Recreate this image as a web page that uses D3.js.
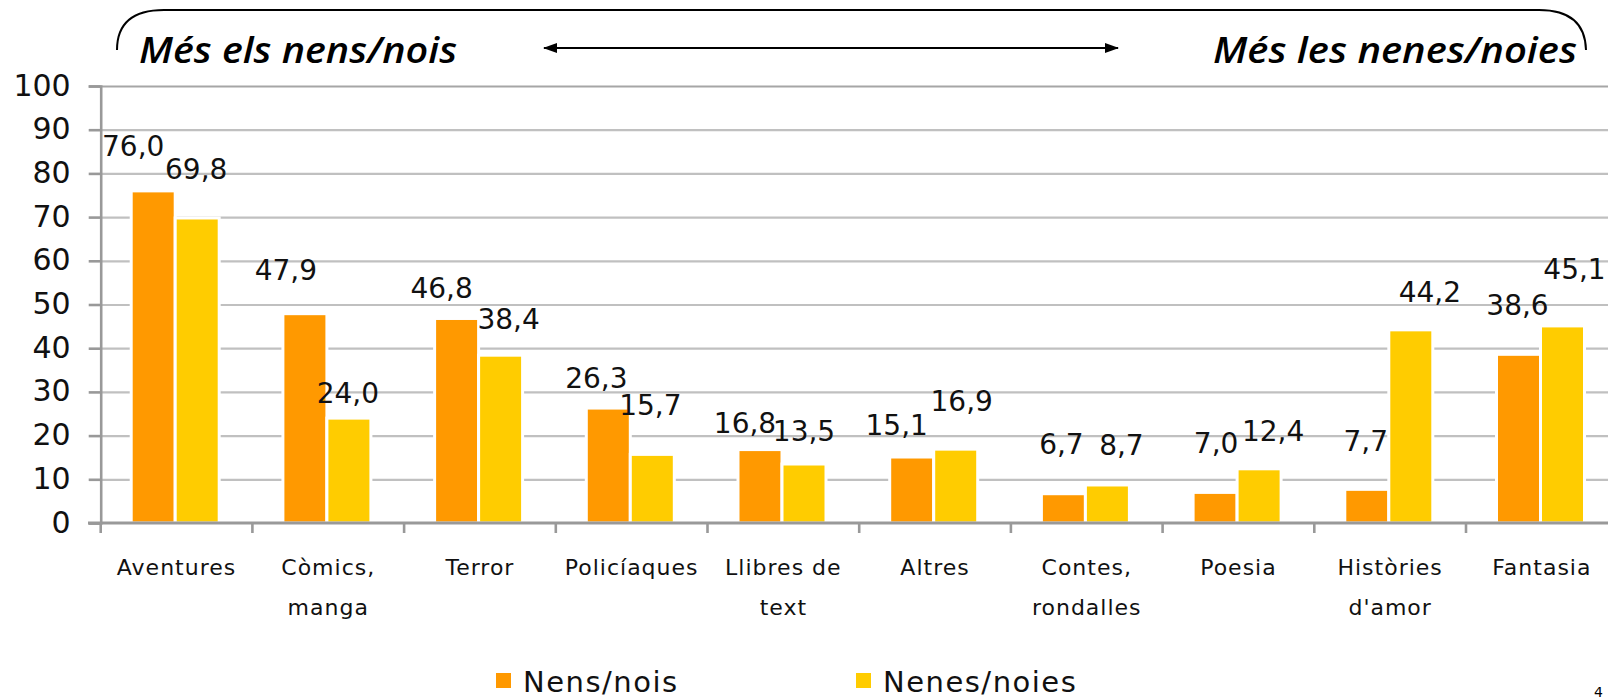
<!doctype html>
<html>
<head>
<meta charset="UTF-8">
<title>Lectures per gènere</title>
<script src="https://d3js.org/d3.v7.min.js"></script>
<style>
  body { margin: 0; background: #fff; }
  svg { display: block; font-family: "DejaVu Sans", sans-serif; }
</style>
</head>
<body>
<svg width="1608" height="699"></svg>
<script>
// data
var categories = ["Aventures", "Còmics,\nmanga", "Terror", "Policíaques", "Llibres de\ntext",
                  "Altres", "Contes,\nrondalles", "Poesia", "Històries\nd'amor", "Fantasia"];
var nensNois   = [76.0, 47.9, 46.8, 26.3, 16.8, 15.1, 6.7, 7.0, 7.7, 38.6];
var nenesNoies = [69.8, 24.0, 38.4, 15.7, 13.5, 16.9, 8.7, 12.4, 44.2, 45.1];
var seriesNames = ["Nens/nois", "Nenes/noies"];
var yTicks = [0, 10, 20, 30, 40, 50, 60, 70, 80, 90, 100];
var colors = ["#ff9900", "#ffcc00"];

// label nudges (pixels from bar top centre), the original labels were hand placed
var nudgeX = [[-20, -19, -15, -12, -15, -15, -2, 1, -1, -1],
              [-1, -1, 8, -2, 0, 6, 14, 14, 19, 12]];
var nudgeY = [[-35, -34, -20, -20, -17, -22, -40, -39, -38, -39],
              [-39, -15, -26, -39, -23, -38, -30, -28, -28, -47]];

var svg = d3.select("svg");
var x = d3.scaleBand().domain(categories).range([100.7, 1617.7]).padding(0);
var x1 = d3.scaleBand().domain([0, 1]).range([30.5, 118.5]).padding(0);
var y = d3.scaleLinear().domain([0, 100]).range([523, 86]);
var fmt = function(v){ return d3.format(".1f")(v).replace(".", ","); };

// gridlines
svg.append("g")
  .attr("transform", "translate(100.7,0)")
  .call(d3.axisLeft(y).tickValues(yTicks.slice(1)).tickSize(-1520).tickFormat(""))
  .call(function(g){
    g.select(".domain").remove();
    g.selectAll("line").attr("stroke", function(d){ return d === 100 ? "#a6a6a6" : "#c0c0c0"; })
      .attr("stroke-width", 2.2);
  });

// bars
var series = [nensNois, nenesNoies];
series.forEach(function(vals, s){
  svg.append("g").selectAll("rect")
    .data(vals)
    .enter().append("rect")
    .attr("x", function(d, i){ return x(categories[i]) + x1(s); })
    .attr("y", function(d){ return y(d); })
    .attr("width", x1.bandwidth())
    .attr("height", function(d){ return y(0) - y(d); })
    .attr("fill", colors[s])
    .attr("stroke", "#fff")
    .attr("stroke-width", 3);
});

// y axis
svg.append("g")
  .attr("transform", "translate(100.7,0)")
  .call(d3.axisLeft(y).tickValues(yTicks).tickSize(12).tickPadding(18))
  .call(function(g){
    g.select(".domain").attr("stroke", "#999").attr("stroke-width", 2.6);
    g.selectAll("line").attr("stroke", "#999").attr("stroke-width", 2.6);
    g.selectAll("text").attr("font-size", 30).attr("fill", "#111")
      .attr("font-family", "DejaVu Sans").attr("dy", "0.30em");
  });

// x axis
svg.append("line")
  .attr("x1", 88).attr("x2", 1608).attr("y1", y(0)).attr("y2", y(0))
  .attr("stroke", "#999").attr("stroke-width", 3);
svg.append("g").selectAll("line")
  .data(categories)
  .enter().append("line")
  .attr("x1", function(d){ return x(d); }).attr("x2", function(d){ return x(d); })
  .attr("y1", y(0)).attr("y2", y(0) + 10)
  .attr("stroke", "#999").attr("stroke-width", 2.6);

var catLabels = svg.append("g").selectAll("text")
  .data(categories)
  .enter().append("text")
  .attr("x", function(d){ return x(d) + x.bandwidth() / 2; })
  .attr("y", 575)
  .attr("text-anchor", "middle")
  .attr("font-size", 22)
  .attr("letter-spacing", 1)
  .attr("fill", "#111");
catLabels.each(function(d){
  var t = d3.select(this);
  d.split("\n").forEach(function(line, k){
    t.append("tspan")
      .attr("x", x(d) + x.bandwidth() / 2)
      .attr("dy", k === 0 ? 0 : 40)
      .text(line);
  });
});

// data labels
series.forEach(function(vals, s){
  svg.append("g").selectAll("text")
    .data(vals)
    .enter().append("text")
    .attr("x", function(d, i){ return x(categories[i]) + x1(s) + x1.bandwidth() / 2 + nudgeX[s][i]; })
    .attr("y", function(d, i){ return y(d) + nudgeY[s][i]; })
    .attr("text-anchor", "middle")
    .attr("font-size", 28)
    .attr("fill", "#111")
    .text(fmt);
});

// legend
var legendX = [496, 856];
seriesNames.forEach(function(name, s){
  svg.append("rect")
    .attr("x", legendX[s]).attr("y", 673)
    .attr("width", 15).attr("height", 15)
    .attr("fill", colors[s]);
  svg.append("text")
    .attr("x", legendX[s] + 27).attr("y", 692)
    .attr("font-size", 29)
    .attr("letter-spacing", 1.5)
    .attr("fill", "#111")
    .text(name);
});

// header: bracket, arrow and captions
svg.append("path")
  .attr("d", "M117,50 Q117,10 164,10 L1539,10 Q1585,10 1586,50")
  .attr("fill", "none").attr("stroke", "#000").attr("stroke-width", 2);

var defs = svg.append("defs");
defs.append("marker")
  .attr("id", "head")
  .attr("viewBox", "0 0 14 10")
  .attr("refX", 13).attr("refY", 5)
  .attr("markerWidth", 14).attr("markerHeight", 10)
  .attr("markerUnits", "userSpaceOnUse")
  .attr("orient", "auto-start-reverse")
  .append("path").attr("d", "M0,0 L14,5 L0,10 z").attr("fill", "#000");

svg.append("line")
  .attr("x1", 544).attr("x2", 1118).attr("y1", 48).attr("y2", 48)
  .attr("stroke", "#000").attr("stroke-width", 2)
  .attr("marker-start", "url(#head)").attr("marker-end", "url(#head)");

svg.append("text")
  .attr("x", 139).attr("y", 63)
  .attr("font-family", "'Open Sans', sans-serif")
  .attr("font-size", 36).attr("font-style", "italic").attr("font-weight", 600)
  .attr("textLength", 318).attr("lengthAdjust", "spacingAndGlyphs")
  .attr("fill", "#000")
  .text("Més els nens/nois");
svg.append("text")
  .attr("x", 1213).attr("y", 63)
  .attr("font-family", "'Open Sans', sans-serif")
  .attr("font-size", 36).attr("font-style", "italic").attr("font-weight", 600)
  .attr("textLength", 364).attr("lengthAdjust", "spacingAndGlyphs")
  .attr("fill", "#000")
  .text("Més les nenes/noies");

// page number peeking in at the corner
svg.append("text")
  .attr("x", 1594).attr("y", 697)
  .attr("font-size", 14).attr("fill", "#000")
  .text("4");
</script>
</body>
</html>
